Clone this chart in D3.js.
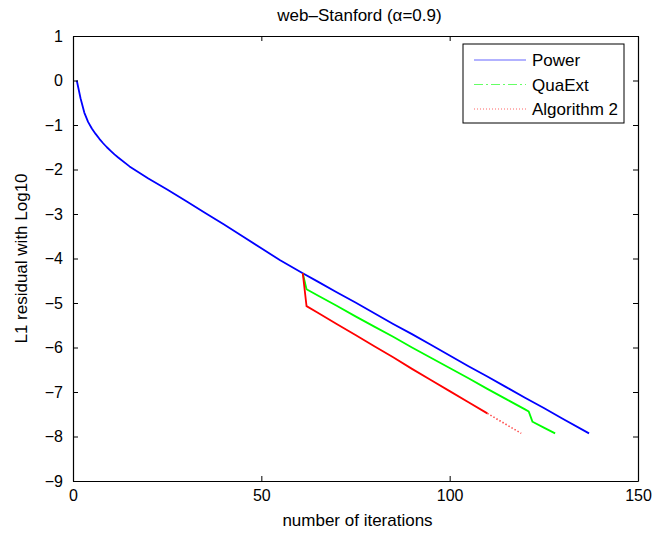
<!DOCTYPE html>
<html>
<head>
<meta charset="utf-8">
<script src="https://cdn.jsdelivr.net/npm/d3@7"></script>
<style>
  html, body { margin: 0; padding: 0; background: #fff; }
  svg text { font-family: "Liberation Sans", Arial, Helvetica, sans-serif; fill: #000; }
</style>
</head>
<body>
<div id="chart"></div>
<script>
// values
const powerIter = [1, 2, 3, 4, 5, 6, 7, 8, 9, 10, 11, 12, 15, 20, 25, 30, 35, 40, 45, 50, 55, 61,
  65, 70, 75, 80, 85, 90, 95, 100, 105, 110, 115, 120, 125, 130, 137];
const powerVal = [0, -0.4, -0.72, -0.93, -1.08, -1.2, -1.31, -1.41, -1.5, -1.58, -1.66, -1.73, -1.93,
  -2.2, -2.45, -2.71, -2.97, -3.23, -3.5, -3.77, -4.04, -4.33,
  -4.52, -4.76, -4.99, -5.23, -5.47, -5.70, -5.94, -6.18, -6.42, -6.65, -6.89, -7.13, -7.36, -7.60, -7.93];

const quaIter = [61, 62, 65, 70, 75, 80, 85, 90, 95, 100, 105, 110, 115, 120, 121, 122, 125, 128];
const quaVal = [-4.33, -4.69, -4.83, -5.06, -5.30, -5.53, -5.76, -6.0, -6.23, -6.46, -6.69, -6.93,
  -7.16, -7.39, -7.44, -7.67, -7.80, -7.93];

const algIter = [61, 62, 65, 70, 75, 80, 85, 90, 95, 100, 105, 110, 115, 119];
const algVal = [-4.33, -5.07, -5.22, -5.47, -5.72, -5.97, -6.22, -6.48, -6.73, -6.98, -7.23, -7.48, -7.73, -7.93];

const xTicks = [0, 50, 100, 150];
const yTicks = [1, 0, -1, -2, -3, -4, -5, -6, -7, -8, -9];
const seriesNames = ['Power', 'QuaExt', 'Algorithm 2'];

function renderChart(containerSelector) {
  const W = 657, H = 533;
  const margin = { top: 36, right: 19, bottom: 52, left: 73 };
  const width = W - margin.left - margin.right;
  const height = H - margin.top - margin.bottom;

  const svg = d3.select(containerSelector).append('svg')
    .attr('width', W).attr('height', H);
  const g = svg.append('g').attr('transform', `translate(${margin.left},${margin.top})`);

  const x = d3.scaleLinear().domain([0, 150]).range([0, width]);
  const y = d3.scaleLinear().domain([-9, 1]).range([height, 0]);

  const series = [
    { name: seriesNames[0], xs: powerIter, ys: powerVal, color: '#0000ff', dash: null },
    { name: seriesNames[1], xs: quaIter, ys: quaVal, color: '#00ff00', dash: '9,3,2,3' },
    { name: seriesNames[2], xs: algIter, ys: algVal, color: '#ff0000', dash: '1,2' },
  ];

  const line = d3.line().x(d => x(d[0])).y(d => y(d[1]));

  series.forEach(s => {
    const pts = s.xs.map((v, i) => [v, s.ys[i]]);
    if (s.name === 'Algorithm 2') {
      // dense part looks solid, the tail shows the dotted style
      g.append('path').datum(pts.filter(p => p[0] <= 110))
        .attr('fill', 'none').attr('stroke', s.color).attr('stroke-width', 1.8).attr('d', line);
      g.append('path').datum(pts.filter(p => p[0] >= 110))
        .attr('fill', 'none').attr('stroke', s.color).attr('stroke-width', 1.6)
        .attr('stroke-dasharray', '1.5,2').attr('opacity', 0.7).attr('d', line);
    } else {
      g.append('path').datum(pts)
        .attr('fill', 'none').attr('stroke', s.color).attr('stroke-width', 1.8)
        .attr('stroke-linejoin', 'round').attr('d', line);
    }
  });

  // axes, MATLAB style: ticks inside on all four sides
  const styleAxis = sel => {
    sel.select('.domain').attr('stroke', '#000').attr('stroke-width', 1.2);
    sel.selectAll('.tick line').attr('stroke', '#000').attr('stroke-width', 1);
    sel.selectAll('.tick text').style('font-size', '16px');
  };

  g.append('g').attr('transform', `translate(0,${height})`)
    .call(d3.axisBottom(x).tickValues(xTicks).tickSize(-5).tickSizeOuter(0).tickPadding(9))
    .call(styleAxis);
  g.append('g')
    .call(d3.axisTop(x).tickValues(xTicks).tickSize(-5).tickSizeOuter(0).tickFormat(''))
    .call(styleAxis);
  g.append('g')
    .call(d3.axisLeft(y).tickValues(yTicks).tickSize(-5).tickSizeOuter(0).tickPadding(10)
      .tickFormat(d => d < 0 ? '\u2212' + Math.abs(d) : d))
    .call(styleAxis);
  g.append('g').attr('transform', `translate(${width},0)`)
    .call(d3.axisRight(y).tickValues(yTicks).tickSize(-5).tickSizeOuter(0).tickFormat(''))
    .call(styleAxis);

  g.selectAll('.tick text').attr('font-family', null);

  // labels
  svg.append('text').attr('x', margin.left + width / 2 + 4).attr('y', 21)
    .attr('text-anchor', 'middle').style('font-size', '17px')
    .text('web\u2013Stanford (\u03b1=0.9)');
  svg.append('text').attr('x', margin.left + width / 2 + 2).attr('y', H - 7)
    .attr('text-anchor', 'middle').style('font-size', '17px')
    .text('number of iterations');
  svg.append('text')
    .attr('transform', `translate(27,${margin.top + height / 2}) rotate(-90)`)
    .attr('text-anchor', 'middle').style('font-size', '17px')
    .text('L1 residual with Log10');

  // legend
  const lg = svg.append('g').attr('transform', 'translate(463,44)');
  lg.append('rect').attr('width', 161).attr('height', 79)
    .attr('fill', '#fff').attr('stroke', '#000').attr('stroke-width', 1);
  series.forEach((s, i) => {
    const yy = 16 + i * 24.5;
    lg.append('line').attr('x1', 11).attr('x2', 63).attr('y1', yy).attr('y2', yy)
      .attr('stroke', s.color).attr('stroke-width', 1).attr('opacity', 0.6)
      .attr('stroke-dasharray', s.dash);
    lg.append('text').attr('x', 69).attr('y', yy + 6)
      .style('font-size', '17px').text(s.name);
  });
}

renderChart('#chart');
</script>
</body>
</html>
